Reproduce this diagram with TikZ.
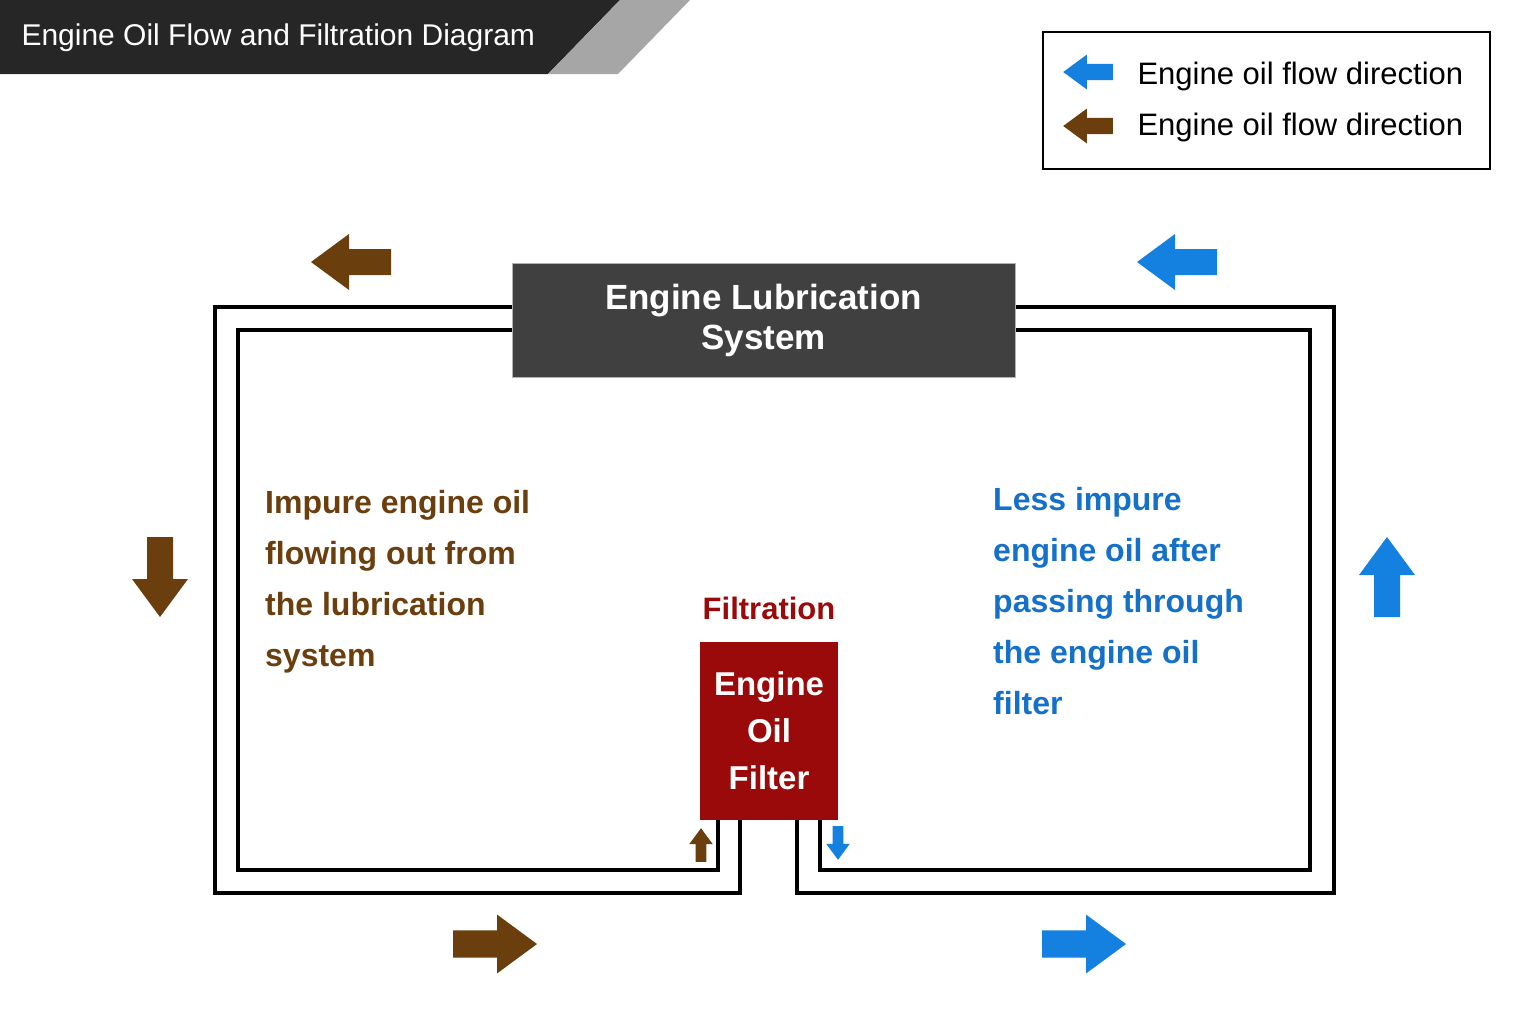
\documentclass[tikz,border=0pt]{standalone}
\usepackage{fontspec}
\setmainfont{Liberation Sans}
\usetikzlibrary{positioning}
\definecolor{oilbrown}{HTML}{6B3E0E}
\definecolor{oilblue}{HTML}{1480E0}
\definecolor{txtblue}{HTML}{1470C8}
\definecolor{filterred}{HTML}{9A0A0A}
\definecolor{boxgray}{HTML}{404040}
\newcommand{\flowarrow}[5]{% colour, x, y, angle, size
  \begin{scope}[shift={(#2,#3)},rotate=#4,scale=#5]
    \fill[#1] (-40,-13) -- (2,-13) -- (2,-28) -- (40,0) -- (2,28) -- (2,13) -- (-40,13) -- cycle;
  \end{scope}}
\begin{document}
\begin{tikzpicture}[
    x=1pt, y=-1pt,
    pipe/.style = {line width=4pt, line join=miter},
    bigtext/.style = {font=\bfseries\fontsize{32}{51}\selectfont, align=left, anchor=north west, inner sep=0pt},
    boxtext/.style = {text=white, align=center, font=\bfseries\fontsize{35}{44}\selectfont}
  ]
  \useasboundingbox (0,0) rectangle (1528,1029);

  % title banner
  \fill[black!85] (0,0) -- (620,0) -- (548,74) -- (0,74) -- cycle;
  \fill[gray!70] (620,0) -- (690,0) -- (618,74) -- (548,74) -- cycle;
  \node[anchor=west, text=white, font=\fontsize{30}{40}\selectfont] (title) at (18,38) {Engine Oil Flow and Filtration Diagram};

  % legend
  \draw[line width=1.5pt] (1043,32) rectangle (1490,169);
  \flowarrow{oilblue}{1088}{72}{180}{0.62}
  \flowarrow{oilbrown}{1088}{126}{180}{0.62}
  \node[anchor=west, font=\fontsize{31}{35}\selectfont] (leg1) at (1134,76) {Engine oil flow direction};
  \node[anchor=west, font=\fontsize{31}{35}\selectfont] (leg2) at (1134,127) {Engine oil flow direction};

  % pipes, left loop
  \draw[pipe] (512,307) -- (215,307) -- (215,893) -- (740,893) -- (740,820);
  \draw[pipe] (512,330) -- (238,330) -- (238,870) -- (718,870) -- (718,820);
  % pipes, right loop
  \draw[pipe] (1015,307) -- (1334,307) -- (1334,893) -- (797,893) -- (797,820);
  \draw[pipe] (1015,330) -- (1310,330) -- (1310,870) -- (820,870) -- (820,820);

  % boxes
  \node[fill=boxgray, minimum width=503pt, minimum height=114pt, boxtext, draw=black!30] (els) at (763.5,320) {Engine Lubrication\\[-4pt]System};
  \node[fill=filterred, minimum width=138pt, minimum height=178pt, boxtext, font=\bfseries\fontsize{33}{47}\selectfont] (filter) at (769,731) {Engine\\Oil\\Filter};
  \node[text=filterred, font=\bfseries\fontsize{31}{38}\selectfont, above=18pt of filter] (filtration) {Filtration};

  % texts
  \node[bigtext, text=oilbrown] (impure) at (265,490) {Impure engine oil\\flowing out from\\the lubrication\\system};
  \node[bigtext, text=txtblue] (less) at (993,487) {Less impure\\engine oil after\\passing through\\the engine oil\\filter};

  % flow arrows
  \flowarrow{oilbrown}{351}{262}{180}{1}
  \flowarrow{oilbrown}{160}{577}{-90}{1}
  \flowarrow{oilbrown}{495}{944}{0}{1.05}
  \flowarrow{oilblue}{1177}{262}{180}{1}
  \flowarrow{oilblue}{1387}{577}{90}{1}
  \flowarrow{oilblue}{1084}{944}{0}{1.05}
  \flowarrow{oilbrown}{701}{845}{90}{0.42}
  \flowarrow{oilblue}{838}{843}{-90}{0.42}
\end{tikzpicture}
\end{document}
